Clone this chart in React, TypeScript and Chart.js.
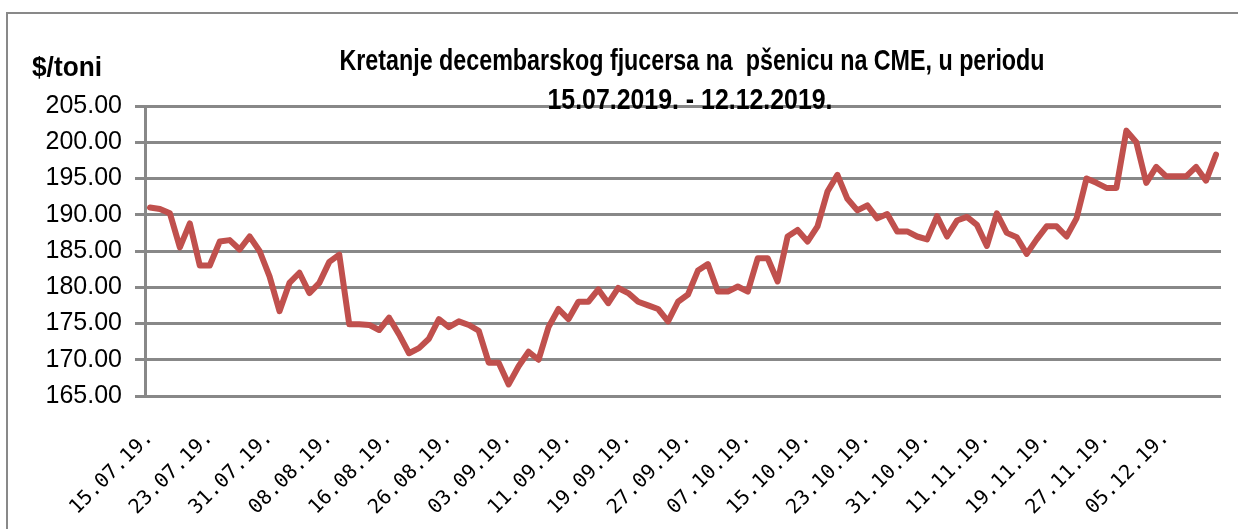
import React, { useEffect, useRef } from "react";
import { Chart, registerables } from "chart.js";

Chart.register(...registerables);

// ---- data ----
const dates: string[] = [
  "15.07.19.", "16.07.19.", "17.07.19.", "18.07.19.", "19.07.19.", "22.07.19.",
  "23.07.19.", "24.07.19.", "25.07.19.", "26.07.19.", "29.07.19.", "30.07.19.",
  "31.07.19.", "01.08.19.", "02.08.19.", "05.08.19.", "06.08.19.", "07.08.19.",
  "08.08.19.", "09.08.19.", "12.08.19.", "13.08.19.", "14.08.19.", "15.08.19.",
  "16.08.19.", "19.08.19.", "20.08.19.", "21.08.19.", "22.08.19.", "23.08.19.",
  "26.08.19.", "27.08.19.", "28.08.19.", "29.08.19.", "30.08.19.", "02.09.19.",
  "03.09.19.", "04.09.19.", "05.09.19.", "06.09.19.", "09.09.19.", "10.09.19.",
  "11.09.19.", "12.09.19.", "13.09.19.", "16.09.19.", "17.09.19.", "18.09.19.",
  "19.09.19.", "20.09.19.", "23.09.19.", "24.09.19.", "25.09.19.", "26.09.19.",
  "27.09.19.", "30.09.19.", "01.10.19.", "02.10.19.", "03.10.19.", "04.10.19.",
  "07.10.19.", "08.10.19.", "09.10.19.", "10.10.19.", "11.10.19.", "14.10.19.",
  "15.10.19.", "16.10.19.", "17.10.19.", "18.10.19.", "21.10.19.", "22.10.19.",
  "23.10.19.", "24.10.19.", "25.10.19.", "28.10.19.", "29.10.19.", "30.10.19.",
  "31.10.19.", "01.11.19.", "04.11.19.", "05.11.19.", "06.11.19.", "07.11.19.",
  "11.11.19.", "12.11.19.", "13.11.19.", "14.11.19.", "15.11.19.", "18.11.19.",
  "19.11.19.", "20.11.19.", "21.11.19.", "22.11.19.", "25.11.19.", "26.11.19.",
  "27.11.19.", "28.11.19.", "29.11.19.", "02.12.19.", "03.12.19.", "04.12.19.",
  "05.12.19.", "06.12.19.", "09.12.19.", "10.12.19.", "11.12.19.", "12.12.19.",
];

const prices: number[] = [
  191.0, 190.8, 190.2, 185.5, 188.8, 183.0,
  183.0, 186.3, 186.5, 185.2, 187.0, 185.0,
  181.5, 176.7, 180.6, 182.0, 179.2, 180.6,
  183.5, 184.5, 174.9, 174.9, 174.8, 174.1,
  175.8, 173.5, 170.9, 171.6, 172.9, 175.6,
  174.5, 175.3, 174.8, 174.0, 169.6, 169.6,
  166.6, 169.1, 171.1, 170.0, 174.5, 177.0,
  175.6, 178.0, 178.0, 179.7, 177.8, 179.9,
  179.2, 178.0, 177.5, 177.0, 175.3, 178.0,
  179.0, 182.3, 183.2, 179.4, 179.4, 180.1,
  179.4, 184.0, 184.0, 180.8, 187.0, 187.9,
  186.3, 188.4, 193.2, 195.5, 192.2, 190.6,
  191.3, 189.5, 190.1, 187.7, 187.7, 187.0,
  186.6, 189.8, 187.0, 189.2, 189.7, 188.6,
  185.7, 190.2, 187.5, 186.9, 184.6, 186.6,
  188.4, 188.4, 187.0, 189.5, 195.0, 194.4,
  193.7, 193.7, 201.6, 200.0, 194.4, 196.6,
  195.3, 195.3, 195.3, 196.6, 194.7, 198.3,
];

const labelStep = 6;
const yMin = 165;
const yMax = 205;
const yStep = 5;
const titleLines: string[] = [
  "Kretanje decembarskog fjucersa na  pšenicu na CME, u periodu",
  "15.07.2019. - 12.12.2019.",
];
const unitLabel = "$/toni";

function drawFitted(
  ctx: CanvasRenderingContext2D,
  text: string,
  x: number,
  y: number,
  targetW: number,
  font: string,
  align: CanvasTextAlign
) {
  ctx.save();
  ctx.font = font;
  ctx.textAlign = align;
  ctx.textBaseline = "alphabetic";
  const w = ctx.measureText(text).width || 1;
  const sx = targetW / w;
  ctx.translate(x, y);
  ctx.scale(sx, 1);
  ctx.fillStyle = "#000";
  ctx.fillText(text, 0, 0);
  ctx.restore();
}

const textPlugin = {
  id: "chartTexts",
  afterDraw(chart: any) {
    const ctx: CanvasRenderingContext2D = chart.ctx;
    const titleFont = 'bold 30px "Liberation Sans Narrow", "Liberation Sans", Arial, sans-serif';
    drawFitted(ctx, titleLines[0], 692, 70, 705, titleFont, "center");
    drawFitted(ctx, titleLines[1], 690, 109, 285, titleFont, "center");
    drawFitted(ctx, unitLabel, 32, 76, 70, 'bold 28px "Liberation Sans Narrow", "Liberation Sans", Arial, sans-serif', "left");
  },
};

export default function App() {
  const canvasRef = useRef<HTMLCanvasElement | null>(null);

  useEffect(() => {
    const canvas = canvasRef.current;
    if (!canvas) return;
    const chart = new Chart(canvas, {
      type: "line",
      data: {
        labels: dates,
        datasets: [
          {
            data: prices,
            borderColor: "#C0504D",
            backgroundColor: "#C0504D",
            borderWidth: 6,
            pointRadius: 0,
            tension: 0,
            borderJoinStyle: "round",
            borderCapStyle: "round",
            fill: false,
          },
        ],
      },
      options: {
        animation: false,
        responsive: false,
        maintainAspectRatio: false,
        devicePixelRatio: 1,
        layout: { padding: { top: 106, right: 17, bottom: 0, left: 0 } },
        plugins: {
          legend: { display: false },
          title: { display: false },
          tooltip: { enabled: false },
        },
        scales: {
          x: {
            type: "category",
            offset: true,
            grid: { display: false, drawTicks: false },
            border: { display: false },
            ticks: {
              autoSkip: false,
              minRotation: 45,
              maxRotation: 45,
              padding: 30,
              color: "#000",
              font: { family: '"DejaVu Sans Mono", monospace', size: 20 },
              callback: (_v: any, i: number) => (i % labelStep === 0 ? dates[i] : ""),
            },
            afterFit: (s: any) => {
              s.height = 133;
              s.paddingLeft = 0;
              s.paddingRight = 0;
            },
          },
          y: {
            min: yMin,
            max: yMax,
            ticks: {
              stepSize: yStep,
              padding: 13,
              color: "#000",
              font: { family: '"Liberation Sans", Arial, sans-serif', size: 25 },
              callback: (v: any) => Number(v).toFixed(2),
            },
            grid: { color: "#888888", lineWidth: 3, tickLength: 10, drawTicks: true },
            border: { display: true, color: "#888888", width: 3 },
            afterFit: (s: any) => {
              s.width = 145;
            },
          },
        },
      },
      plugins: [textPlugin],
    });
    return () => chart.destroy();
  }, []);

  return (
    <div
      style={{
        position: "fixed",
        left: 0,
        top: 0,
        width: 1238,
        height: 529,
        overflow: "hidden",
        background: "#fff",
      }}
    >
      <div
        style={{
          position: "absolute",
          left: 6,
          top: 12,
          width: 1400,
          height: 700,
          border: "2px solid #898989",
        }}
      />
      <canvas
        ref={canvasRef}
        width={1238}
        height={529}
        style={{ position: "absolute", left: 0, top: 0, width: 1238, height: 529 }}
      />
    </div>
  );
}
